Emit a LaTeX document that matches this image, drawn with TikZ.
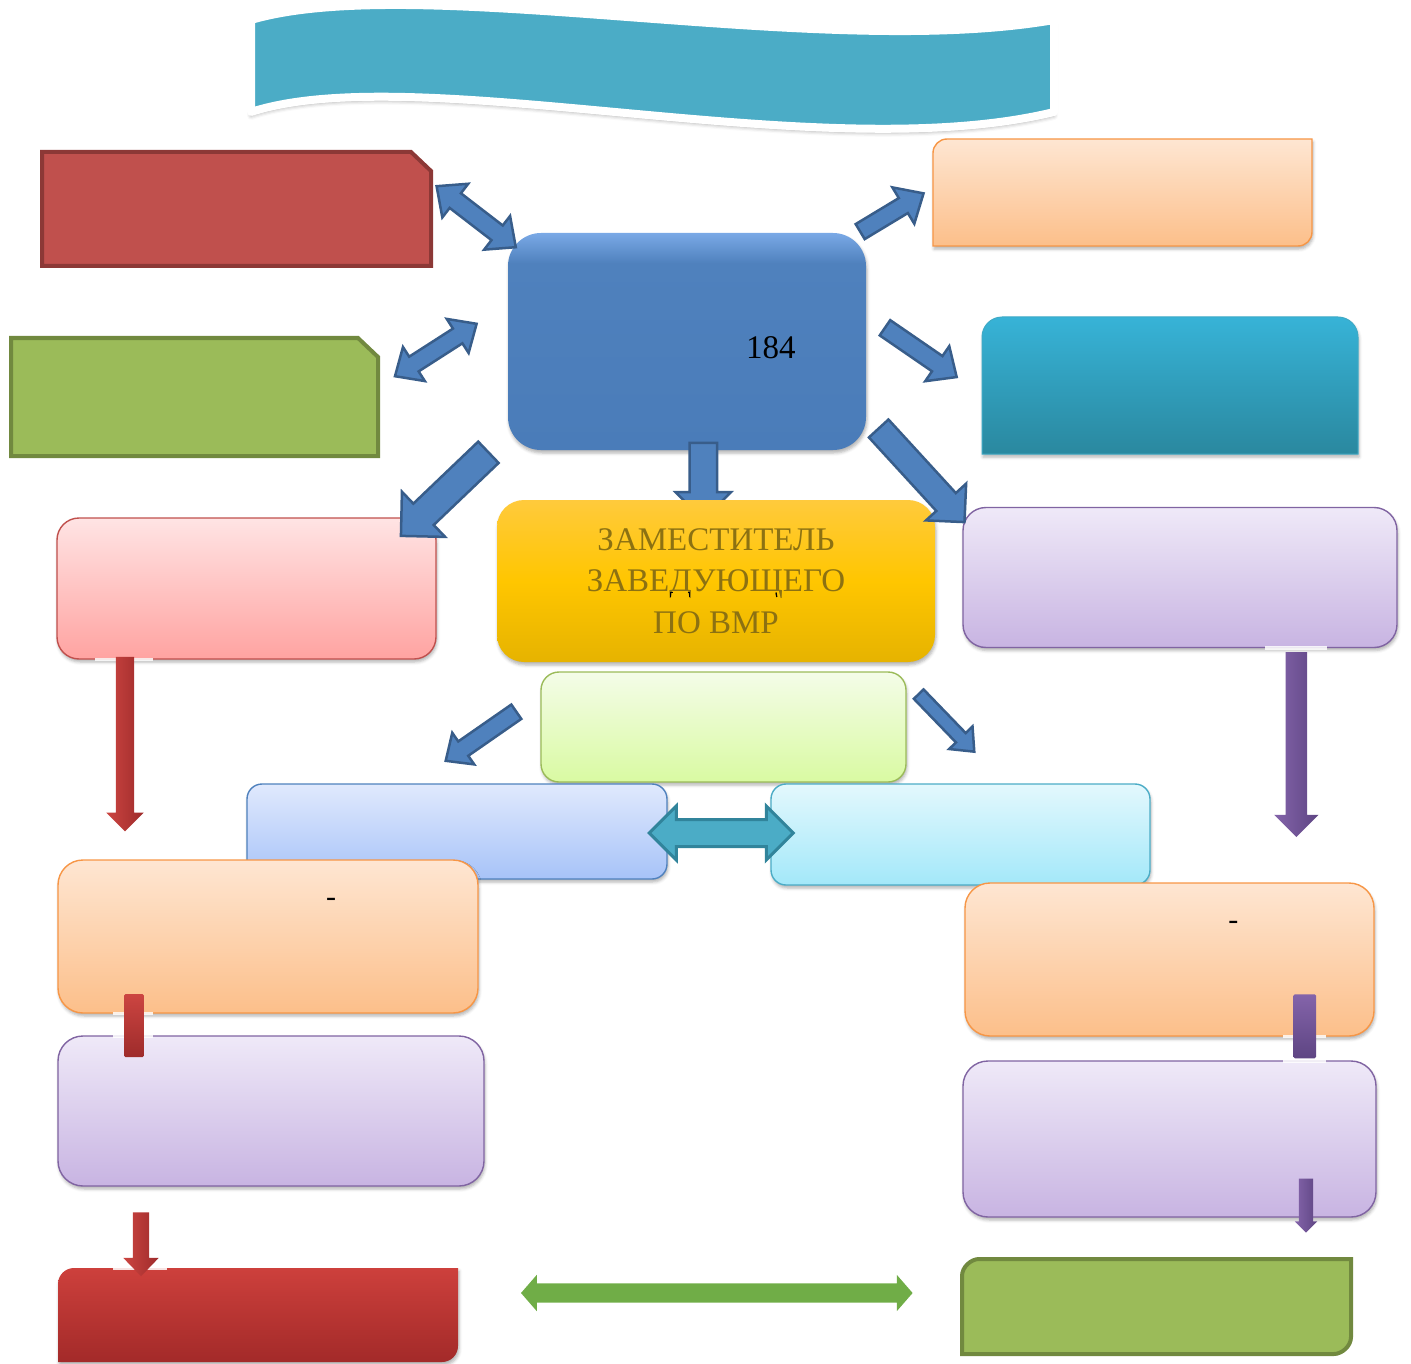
\documentclass[tikz,border=0pt]{standalone}
\usepackage{fontspec}
\setmainfont{Liberation Serif}
\usetikzlibrary{shapes.arrows,shadows.blur}
\definecolor{bannerc}{HTML}{4BACC6}
\definecolor{arrblue}{HTML}{4F81BD}
\definecolor{arrbord}{HTML}{385D8A}
\definecolor{redfill}{HTML}{C0504D}
\definecolor{redbord}{HTML}{8C3836}
\definecolor{grnfill}{HTML}{9BBB59}
\definecolor{grnbord}{HTML}{71893F}
\definecolor{orgtop}{HTML}{FEE6D2}
\definecolor{orgbot}{HTML}{FCBF8A}
\definecolor{orgbord}{HTML}{F79646}
\definecolor{tealtop}{HTML}{37B3D7}
\definecolor{tealbot}{HTML}{2A889F}
\definecolor{tealbord}{HTML}{3FAAC6}
\definecolor{cenbot}{HTML}{4A7CB9}
\definecolor{cenmid}{HTML}{4F81BD}
\definecolor{centop}{HTML}{7AA9E6}
\definecolor{yeltop}{HTML}{FFCA3C}
\definecolor{yelmid}{HTML}{FFC600}
\definecolor{yelbot}{HTML}{E6B300}
\definecolor{yeltext}{HTML}{8C7112}
\definecolor{pinktop}{HTML}{FFE4E4}
\definecolor{pinkbot}{HTML}{FFA3A1}
\definecolor{purtop}{HTML}{EFE9F8}
\definecolor{purbot}{HTML}{C8B4E2}
\definecolor{purbord}{HTML}{8064A2}
\definecolor{lgtop}{HTML}{F4FCE8}
\definecolor{lgbot}{HTML}{D9FAA2}
\definecolor{lbtop}{HTML}{E0E9FD}
\definecolor{lbbot}{HTML}{A7C3F8}
\definecolor{lctop}{HTML}{E3F8FD}
\definecolor{lcbot}{HTML}{A3E8F9}
\definecolor{rbtop}{HTML}{CD403C}
\definecolor{rbbot}{HTML}{A32A29}
\definecolor{tealarr}{HTML}{4BACC6}
\definecolor{tealarrb}{HTML}{31849B}
\definecolor{grnarr}{HTML}{70AD47}
\definecolor{rarrtop}{HTML}{CC4541}
\definecolor{rarrbot}{HTML}{9E2B2B}
\definecolor{parrtop}{HTML}{8464AA}
\definecolor{parrbot}{HTML}{5E4583}
\pgfdeclareverticalshading{censhade}{100bp}{color(0bp)=(cenbot); color(25bp)=(cenbot); color(68bp)=(cenmid); color(75bp)=(centop); color(100bp)=(centop)}
\begin{document}
\begin{tikzpicture}[x=1pt,y=-1pt,
  box/.style={rectangle, inner sep=0pt, outer sep=0pt},
  shad/.style={blur shadow={shadow xshift=1pt, shadow yshift=-3pt, shadow blur radius=3pt, shadow opacity=30}},
  softbox/.style={box, shad, line width=1.4pt},
  orangebox/.style={softbox, rounded corners=25pt, top color=orgtop, bottom color=orgbot, draw=orgbord},
  purplebox/.style={softbox, rounded corners=25pt, top color=purtop, bottom color=purbot, draw=purbord},
  blarrow/.style={fill=arrblue, draw=arrbord, line width=2.5pt, inner xsep=0pt, outer sep=0pt, line join=miter},
  sarrow/.style n args={5}{single arrow, minimum height=#1, inner ysep=#2, single arrow head extend=#3, single arrow tip angle=#4, rotate=#5},
  darrow/.style n args={5}{double arrow, minimum height=#1, inner ysep=#2, double arrow head extend=#3, double arrow tip angle=#4, rotate=#5},
  redarrow/.style={inner xsep=0pt, outer sep=0pt, left color=rarrtop, right color=rarrbot},
  purarrow/.style={inner xsep=0pt, outer sep=0pt, left color=parrtop, right color=parrbot},
  glow/.style={fill=white, draw=none, opacity=0.85},
  bigtext/.style={font=\fontsize{33}{41.7}\selectfont}
]
\useasboundingbox (0,0) rectangle (1411,1364);

% banner
\path[fill=bannerc, draw=white, line width=8pt, line join=round,
  blur shadow={shadow xshift=0pt, shadow yshift=-4pt, shadow blur radius=4pt, shadow opacity=35}]
  (251,20) .. controls (418,-29) and (820,61) .. (1054,20)
  -- (1054,112) .. controls (820,169) and (418,58) .. (251,112) -- cycle;

% top-left snipped boxes
\path[fill=redfill, draw=redbord, line width=4pt]
  (42,152) -- (411,152) -- (431,171) -- (431,266) -- (42,266) -- cycle;
\node[box, minimum width=389pt, minimum height=114pt] (redTL) at (236.5,209) {};
\path[fill=grnfill, draw=grnbord, line width=4pt]
  (11,338) -- (358,338) -- (378,357) -- (378,456) -- (11,456) -- cycle;
\node[box, minimum width=367pt, minimum height=118pt] (greenL) at (194.5,397) {};

% top-right boxes
\path[shad, top color=orgtop, bottom color=orgbot, draw=orgbord, line width=1.4pt]
  (933,153) .. controls (933,145.27) and (939.27,139) .. (947,139) -- (1312,139)
  -- (1312,232) .. controls (1312,239.73) and (1305.73,246) .. (1298,246) -- (933,246) -- cycle;
\node[box, minimum width=379pt, minimum height=107pt] (orangeTR) at (1122.5,192.5) {};
\path[shad, top color=tealtop, bottom color=tealbot, draw=tealbord, line width=1pt]
  (982,454) -- (982,337) .. controls (982,325.96) and (990.96,317) .. (1002,317) -- (1338,317)
  .. controls (1349.04,317) and (1358,325.96) .. (1358,337) -- (1358,454) -- cycle;
\node[box, minimum width=376pt, minimum height=137pt] (tealR) at (1170,385.5) {};

% central box
\node[box, shad, rounded corners=33pt, minimum width=358pt, minimum height=217pt, shading=censhade] (central) at (687,341.5) {};

% arrow into yellow box (partly hidden by it)
\node[blarrow, sarrow={77pt}{12.5pt}{14pt}{90}{-90}] (a7) at (703.3,474.5) {};

% yellow box
\node[box, shad, rounded corners=27pt, minimum width=438pt, minimum height=162pt,
  top color=yeltop, bottom color=yelbot, middle color=yelmid,
  text=yeltext, bigtext, align=center] (zam) at (716,581)
  {ЗАМЕСТИТЕЛЬ\\ЗАВЕДУЮЩЕГО\\ПО ВМР};
\draw[black, line width=1.3pt] (670.5,597) -- (670.5,592.5) -- (673,592.5);
\draw[black, line width=1.3pt] (687.5,592.5) -- (689.5,592.5) -- (689.5,597);
\draw[black, line width=1.3pt] (776,592.5) -- (776.8,597);

% second row boxes
\node[softbox, rounded corners=22pt, minimum width=379pt, minimum height=141pt,
  top color=pinktop, bottom color=pinkbot, draw=redfill] (pink) at (246.5,588.5) {};
\node[purplebox, rounded corners=23pt, minimum width=434pt, minimum height=140pt] (purpleTR) at (1180,577.5) {};

% light green centre box
\node[softbox, rounded corners=18pt, minimum width=365pt, minimum height=110pt,
  top color=lgtop, bottom color=lgbot, draw=grnfill] (lgreen) at (723.5,727) {};

% light blue / light cyan
\node[softbox, rounded corners=15pt, minimum width=420pt, minimum height=95pt,
  top color=lbtop, bottom color=lbbot, draw=arrblue] (lblue) at (457,831.5) {};
\node[softbox, rounded corners=15pt, minimum width=379pt, minimum height=101pt,
  top color=lctop, bottom color=lcbot, draw=tealarr] (lcyan) at (960.5,834.5) {};

% lower boxes
\node[orangebox, minimum width=420pt, minimum height=153pt] (orangeL) at (268,936.5) {};
\node[purplebox, minimum width=426pt, minimum height=150pt] (purpleL) at (271,1111) {};
\node[orangebox, minimum width=409pt, minimum height=153pt] (orangeR) at (1169.5,959.5) {};
\node[purplebox, minimum width=413pt, minimum height=156pt] (purpleR) at (1169.5,1139) {};

% bottom boxes
\path[shad, top color=rbtop, bottom color=rbbot]
  (58,1362) -- (58,1284) .. controls (58,1275.17) and (65.17,1268) .. (74,1268) -- (458,1268)
  -- (458,1346) .. controls (458,1354.83) and (450.83,1362) .. (442,1362) -- cycle;
\node[box, minimum width=400pt, minimum height=94pt] (redB) at (258,1315) {};
\path[fill=grnfill, draw=grnbord, line width=4pt]
  (962,1354) -- (962,1276) .. controls (962,1266.62) and (971.38,1259) .. (979,1259) -- (1351,1259)
  -- (1351,1337) .. controls (1351,1346.38) and (1341.62,1354) .. (1334,1354) -- cycle;
\node[box, minimum width=389pt, minimum height=95pt] (greenB) at (1156.5,1306.5) {};

% soft glows where the small arrows cross box edges
\fill[glow] (95,657.5) rectangle (153,661);
\fill[glow] (1265,646) rectangle (1327,649.5);
\fill[glow] (113,1011.5) rectangle (153,1015);
\fill[glow] (113,1034.2) rectangle (153,1037.7);
\fill[glow] (1283,1034.5) rectangle (1326,1038);
\fill[glow] (1283,1059.2) rectangle (1326,1062.7);
\fill[glow] (113,1267) rectangle (167,1270);

% blue block arrows around the central box
\node[blarrow, darrow={100pt}{8pt}{12pt}{84}{-37.6}] (a1) at (476.2,216.7) {};
\node[blarrow, darrow={97pt}{7.5pt}{11.5pt}{84}{32.7}] (a2) at (435.8,350) {};
\node[blarrow, sarrow={74pt}{7.5pt}{12.5pt}{84}{31.1}] (a3) at (887.7,215) {};
\node[blarrow, sarrow={87pt}{8pt}{12pt}{84}{-34.5}] (a4) at (916.6,349.5) {};
\node[blarrow, sarrow={121pt}{13.5pt}{16.5pt}{90}{-136.3}] (a5) at (450,489) {};
\node[blarrow, sarrow={127pt}{12pt}{14pt}{90}{-47.5}] (a6) at (917.1,470.4) {};
\node[blarrow, sarrow={86pt}{7.5pt}{10.5pt}{84}{-145.2}] (a8) at (485,733.5) {};
\node[blarrow, sarrow={80pt}{5.5pt}{9.5pt}{80}{-46}] (a9) at (943.7,720) {};

% horizontal double arrows
\node[double arrow, fill=tealarr, draw=tealarrb, line width=3pt, inner xsep=0pt, outer sep=0pt,
  minimum height=144pt, inner ysep=12pt, double arrow head extend=13.5pt, double arrow tip angle=90] (a10) at (721.3,833) {};
\node[double arrow, fill=grnarr, inner xsep=0pt, outer sep=0pt,
  minimum height=391.6pt, inner ysep=9.5pt, double arrow head extend=8.5pt, double arrow tip angle=98] (ag) at (716.8,1293) {};

% red vertical arrows
\node[redarrow, sarrow={174.4pt}{9pt}{9.5pt}{90}{-90}] (r1) at (125,739.5) {};
\node[box, minimum width=20pt, minimum height=63pt, top color=rarrtop, bottom color=rarrbot, rounded corners=1.5pt] (r2) at (134,1025.5) {};
\node[redarrow, sarrow={64pt}{8pt}{9.5pt}{88}{-90}] (r3) at (141,1240) {};

% purple vertical arrows
\node[purarrow, sarrow={185pt}{10.5pt}{11.5pt}{90}{-90}] (p1) at (1296.3,739.2) {};
\node[box, minimum width=22.7pt, minimum height=64pt, top color=parrtop, bottom color=parrbot, rounded corners=1.5pt] (p2) at (1304.7,1026.3) {};
\node[purarrow, sarrow={54pt}{6.85pt}{4.2pt}{90}{-90}] (p3) at (1306,1202) {};

% texts
\node[anchor=base, font=\fontsize{33}{40}\selectfont, inner sep=0pt] (t184) at (770.8,358.3) {184};
\node[anchor=base, font=\fontsize{30}{36}\selectfont, inner sep=0pt] (dashL) at (331,906) {-};
\node[anchor=base, font=\fontsize{30}{36}\selectfont, inner sep=0pt] (dashR) at (1233.3,929.3) {-};
\end{tikzpicture}
\end{document}
